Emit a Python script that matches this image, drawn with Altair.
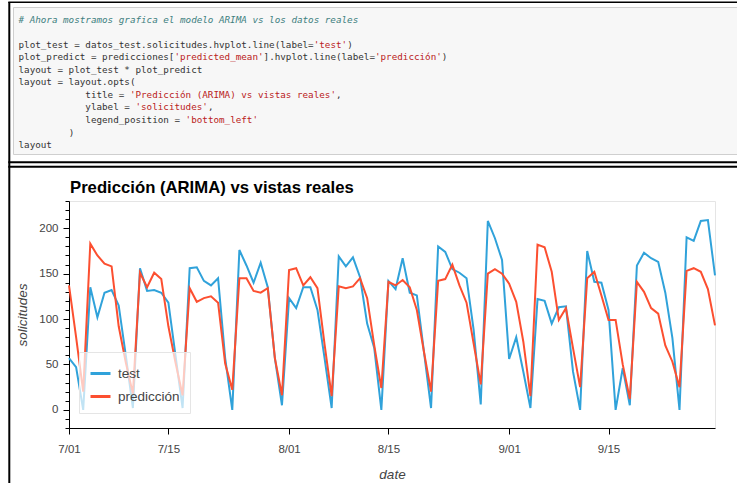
import altair as alt
import pandas as pd

# ---------------- data ----------------
dates = pd.date_range("2023-07-01", "2023-09-30", freq="D").strftime("%Y-%m-%d").tolist()

test_values = [57, 47, 0, 135, 102, 129, 132, 115, 60, 2,
               156, 131, 132, 129, 118, 60, 2, 156, 157, 142,
               137, 145, 57, 0, 176, 159, 140, 162, 135, 57,
               5, 123, 112, 135, 135, 110, 57, 2, 169, 158,
               168, 146, 95, 68, 0, 142, 133, 167, 129, 126,
               64, 2, 180, 174, 155, 151, 145, 88, 6, 208,
               189, 165, 56, 80, 42, 2, 122, 120, 95, 113,
               114, 42, 0, 175, 141, 140, 110, 0, 46, 5,
               159, 173, 167, 163, 129, 79, 0, 190, 186, 208,
               209, 148]

pred_values = [137, 80, 20, 183, 170, 161, 158, 92, 52, 18,
               151, 135, 151, 144, 92, 52, 16, 134, 119, 123,
               125, 118, 51, 22, 145, 145, 131, 129, 134, 57,
               16, 154, 156, 137, 146, 134, 72, 15, 136, 134,
               136, 145, 123, 71, 24, 141, 137, 143, 135, 110,
               64, 20, 142, 144, 160, 137, 118, 73, 28, 150,
               155, 150, 139, 119, 75, 15, 182, 179, 152, 99,
               112, 68, 25, 145, 152, 126, 99, 99, 50, 12,
               141, 130, 112, 106, 71, 53, 25, 153, 156, 152,
               133, 93]

series_names = ["test", "predicción"]
series_colors = ["#30a2da", "#fc4f30"]

y_major_ticks = [0, 50, 100, 150, 200]
y_minor_ticks = list(range(-20, 231, 10))
x_tick_dates = ["2023-07-01", "2023-07-15", "2023-08-01", "2023-08-15", "2023-09-01", "2023-09-15"]

title_text = "Predicción (ARIMA) vs vistas reales"
y_title = "solicitudes"
x_title = "date"

code_lines = [
    [("# Ahora mostramos grafica el modelo ARIMA vs los datos reales", "comment")],
    [],
    [("plot_test = datos_test.solicitudes.hvplot.line(label=", "code"), ("'test'", "string"), (")", "code")],
    [("plot_predict = predicciones[", "code"), ("'predicted_mean'", "string"),
     ("].hvplot.line(label=", "code"), ("'predicción'", "string"), (")", "code")],
    [("layout = plot_test * plot_predict", "code")],
    [("layout = layout.opts(", "code")],
    [("            title = ", "code"), ("'Predicción (ARIMA) vs vistas reales'", "string"), (",", "code")],
    [("            ylabel = ", "code"), ("'solicitudes'", "string"), (",", "code")],
    [("            legend_position = ", "code"), ("'bottom_left'", "string")],
    [("         )", "code")],
    [("layout", "code")],
]

# ---------------- layout constants ----------------
W, H = 646, 227
PAD_L, PAD_T, PAD_R, PAD_B = 69, 201, 22, 55
FONT = "Liberation Sans"
MONO = "DejaVu Sans Mono"
CHAR_W = 5.57
CODE_X0 = 18.5 - PAD_L
CODE_Y0 = 19.5 - PAD_T
CODE_LH = 12.56
code_styles = {
    "code": dict(color="#333333", fontStyle="normal"),
    "string": dict(color="#ba2121", fontStyle="normal"),
    "comment": dict(color="#408080", fontStyle="italic"),
}

df = pd.DataFrame({
    "date": dates + dates,
    "value": test_values + pred_values,
    "serie": [series_names[0]] * len(dates) + [series_names[1]] * len(dates),
})

x_tick_ms = [int(pd.Timestamp(d, tz="UTC").timestamp() * 1000) for d in x_tick_dates]

x_scale = alt.Scale(type="utc", nice=False,
                    domain=[alt.DateTime(year=2023, month=7, date=1, utc=True),
                            alt.DateTime(year=2023, month=9, date=30, utc=True)])
y_scale = alt.Scale(domain=[-20, 230], nice=False, zero=False)

x_axis = alt.Axis(values=x_tick_ms, format="%-m/%d", title=x_title, grid=False,
                  tickSize=6, tickColor="black", domainColor="black",
                  labelFont=FONT, labelFontSize=11.5, labelColor="#444444", labelPadding=9,
                  labelFlush=False, labelOverlap=False,
                  titleFont=FONT, titleFontSize=13.5, titleFontStyle="italic",
                  titleFontWeight="normal", titleColor="#444444",
                  titleX=(392 - PAD_L), titleY=46, titleBaseline="middle", titleAnchor="middle")
y_axis = alt.Axis(orient="left", values=y_major_ticks, title=y_title, grid=False,
                  tickSize=6, tickColor="black", domainColor="black",
                  labelFont=FONT, labelFontSize=11.5, labelColor="#444444", labelPadding=5,
                  labelFlush=False,
                  titleFont=FONT, titleFontSize=13.5, titleFontStyle="italic",
                  titleFontWeight="normal", titleColor="#444444",
                  titleX=(22.5 - PAD_L), titleY=113.5, titleAngle=270,
                  titleBaseline="middle", titleAlign="center")
y_minor_axis = alt.Axis(orient="left", values=y_minor_ticks, title=None, grid=False,
                        labels=False, domain=False, ticks=True, tickSize=4, tickColor="black")

legend = alt.Legend(title=None, orient="none", legendX=10, legendY=151,
                    fillColor="rgba(255,255,255,0.7)", strokeColor="#e5e5e5",
                    padding=10, cornerRadius=0, symbolType="stroke", symbolSize=400,
                    symbolStrokeWidth=3, labelFont=FONT, labelFontSize=13.5,
                    labelColor="#444444", rowPadding=5, labelOffset=6, labelLimit=0)

color_scale = alt.Scale(domain=series_names, range=series_colors)

# test series (draws the main y axis); prediction series drawn on top (carries minor y ticks)
test_layer = alt.Chart(df).transform_filter(alt.datum.serie == series_names[0]).mark_line(
    strokeWidth=2).encode(
    x=alt.X("date:T", scale=x_scale, axis=x_axis),
    y=alt.Y("value:Q", scale=y_scale, axis=y_axis),
    color=alt.Color("serie:N", scale=color_scale, legend=legend),
)
pred_layer = alt.Chart(df).transform_filter(alt.datum.serie == series_names[1]).mark_line(
    strokeWidth=2).encode(
    x=alt.X("date:T", scale=x_scale, axis=x_axis),
    y=alt.Y("value:Q", scale=y_scale, axis=y_minor_axis),
    color=alt.Color("serie:N", scale=color_scale, legend=legend),
)

one = alt.Data(values=[{"k": 0}])


def rel_x(px):
    return px - PAD_L


def rel_y(py):
    return py - PAD_T


# decorative notebook frame
deco = []
deco.append(alt.Chart(one).mark_rect(fill="#f7f7f7", stroke="#cfcfcf", strokeWidth=1).encode(
    x=alt.value(rel_x(13.5)), x2=alt.value(rel_x(745)),
    y=alt.value(rel_y(7.5)), y2=alt.value(rel_y(154.5))))
for (xa, xb, ya, yb, sw) in [(8.3, 740, 2.3, 2.3, 1.5),
                             (8.3, 740, 162.3, 162.3, 2),
                             (8.3, 740, 166.8, 166.8, 2),
                             (9.3, 9.3, 2, 485, 2)]:
    deco.append(alt.Chart(one).mark_rule(color="black", strokeWidth=sw).encode(
        x=alt.value(rel_x(xa)), x2=alt.value(rel_x(xb)),
        y=alt.value(rel_y(ya)), y2=alt.value(rel_y(yb))))

# code text
code_layers = []
for i, line in enumerate(code_lines):
    col = 0
    for seg, kind in line:
        lead = len(seg) - len(seg.lstrip(" "))
        txt = seg.lstrip(" ")
        st = code_styles[kind]
        code_layers.append(alt.Chart(one).mark_text(
            align="left", baseline="middle", font=MONO, fontSize=9.25,
            color=st["color"], fontStyle=st["fontStyle"]).encode(
            x=alt.value(CODE_X0 + (col + lead) * CHAR_W),
            y=alt.value(CODE_Y0 + i * CODE_LH),
            text=alt.value(txt)))
        col += len(seg)

title_layer = alt.Chart(one).mark_text(
    align="left", baseline="alphabetic", font=FONT, fontSize=16.7,
    fontWeight="bold", color="black").encode(
    x=alt.value(rel_x(70)), y=alt.value(rel_y(193.3)), text=alt.value(title_text))

chart = alt.layer(*deco, test_layer, pred_layer, title_layer, *code_layers).resolve_axis(
    y="independent"
).properties(
    width=W, height=H, autosize="none",
    padding={"left": PAD_L, "top": PAD_T, "right": PAD_R, "bottom": PAD_B},
    background="white",
).configure_view(stroke="#e5e5e5", strokeWidth=1)

chart.save("out.html", embed_options={"renderer": "svg", "actions": False})
